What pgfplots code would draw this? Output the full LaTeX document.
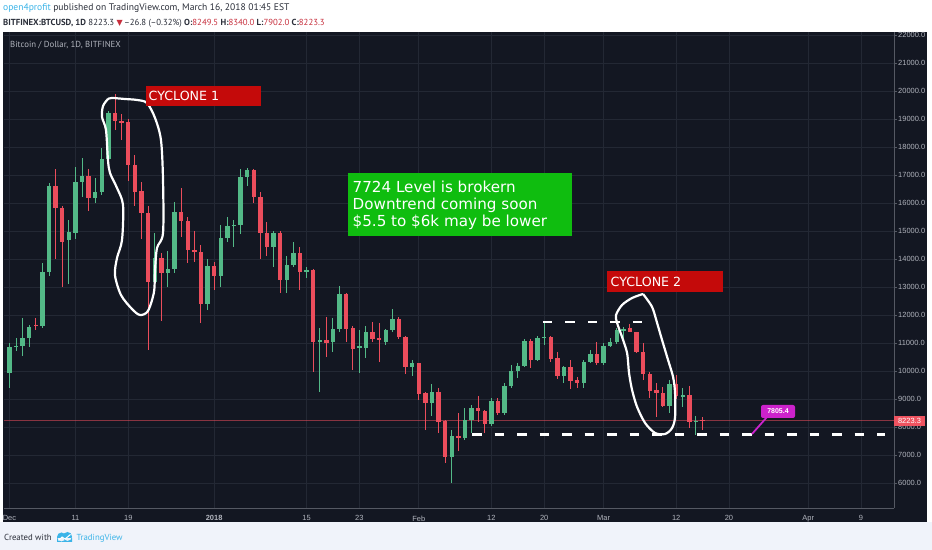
\documentclass[border=0pt]{standalone}
\usepackage{pgfplots}
\pgfplotsset{compat=1.18}
\usepackage{pgfplotstable}
\usepackage{fontspec}
\setmainfont{PT Sans}
\newfontfamily\arialf{Liberation Sans}
\newfontfamily\symf{DejaVu Sans}
\definecolor{bgdark}{HTML}{131722}
\definecolor{footbg}{HTML}{F0F3FA}
\definecolor{gridc}{HTML}{232834}
\definecolor{axisc}{HTML}{555963}
\definecolor{tickc}{HTML}{B2B5BE}
\definecolor{upc}{HTML}{53B987}
\definecolor{dnc}{HTML}{EB4D5C}
\definecolor{boxred}{HTML}{C40A0A}
\definecolor{boxgreen}{HTML}{0FBD0F}
\definecolor{magc}{HTML}{CC22CC}
\definecolor{pricelab}{HTML}{EF5360}
\definecolor{hdrred}{HTML}{C72E3C}
\definecolor{hdrtext}{HTML}{2A2E39}
\definecolor{tvblue}{HTML}{3BB4E8}

% day index from Dec 1, 2017; open high low close
\pgfplotstableread{
d o h l c
0 9930 11000 9400 10860
1 10860 11180 10700 10900
2 10900 11890 10550 11180
3 11180 11630 10870 11570
5 11600 13850 11550 13540
6 13540 16700 13400 16610
9 14680 15400 13100 14960
10 14930 17300 14700 16750
11 16750 17600 16200 16960
13 16180 16900 16000 16390
14 16390 17950 16300 17570
15 17570 19300 17400 19210
22 13180 14930 12800 14040
24 13500 14300 13000 13640
25 13640 16050 13500 15680
30 12390 14000 12180 13750
32 13390 15200 13000 14750
33 14750 15500 14600 15180
34 15180 15400 14430 15230
35 15230 17200 14900 16930
36 16930 17250 16600 17180
40 14430 15000 13700 14930
42 13250 14100 12800 13790
43 13790 14600 13700 14210
45 13540 13710 13320 13600
47 11040 11540 9250 11100
49 11036 11890 10680 11500
50 11500 13036 11400 12750
53 10820 11460 9930 10900
54 10820 11600 10460 11390
57 11036 11500 10930 11460
58 11460 12210 11400 11860
61 10143 10390 9820 10286
64 8857 9536 8400 9250
67 6930 7890 6000 7680
69 7600 8680 7550 8250
70 8250 8790 7790 8680
73 8107 9040 8050 8930
75 8500 9570 8430 9464
76 9464 10210 9390 10000
77 10000 10290 9750 10180
78 10180 11140 10150 11070
80 10393 11250 10350 11180
81 11180 11750 10930 11214
84 9820 10180 9570 10140
87 9570 10390 9390 10320
88 10320 10750 10280 10600
90 10290 11000 10210 10900
91 10900 11180 10850 11036
92 11036 11536 10950 11460
93 11460 11570 11036 11500
100 8750 9680 8500 9536
102 9107 9390 8710 9140
104 8180 8390 7710 8214
}\up

\pgfplotstableread{
d o h l c
4 11650 11900 11470 11600
7 16610 17200 14000 15820
8 15820 15900 13000 14600
12 16960 17200 15700 16180
16 19210 19900 18600 18930
17 18930 19180 18250 18880
18 18900 19000 16800 17360
19 17360 17700 15900 16390
20 16430 16750 14700 15640
21 15640 15900 10750 13180
23 14040 14200 11800 13500
26 15680 16540 14800 15360
27 15360 15500 13860 14320
28 14320 15000 13900 14250
29 14250 14500 11700 12390
31 13750 13900 12890 13390
37 17180 17200 16000 16210
38 16210 16400 14000 14930
39 14930 15320 14100 14430
41 14930 15000 12790 13250
44 14210 14430 12890 13540
46 13610 13650 9960 11040
48 11100 11930 10500 11000
51 12750 12800 11036 11500
52 11536 11600 10036 10786
55 11390 11750 11036 11140
56 11180 11710 10320 11100
59 11860 11930 11150 11214
60 11214 11250 9890 10143
62 10286 10300 8960 9179
63 9214 9250 7900 8857
65 9250 9390 7790 8179
66 8214 8250 6710 6930
68 7680 8500 7140 7600
71 8680 9107 8180 8570
72 8570 8600 7790 8107
74 8930 9040 8430 8500
79 11070 11140 10100 10393
82 11214 11250 10320 10430
83 10460 10680 9700 9820
85 10140 10390 9360 9640
86 9680 9800 9390 9570
89 10600 11036 10210 10290
94 11536 11680 11400 11390
95 11390 11400 10640 10680
96 10680 11000 9680 9890
97 9890 9950 9036 9290
98 9320 9570 8360 9210
99 9210 9430 8700 8750
101 9536 9860 9000 9107
103 9140 9460 7960 8180
105 8249.5 8340 7902 8223.3
}\dn

\begin{document}
\begin{tikzpicture}[x=1bp,y=1bp]
\useasboundingbox (0,0) rectangle (932,550);
\fill[white] (0,0) rectangle (932,550);
\fill[footbg] (0,0) rectangle (932,28);
\fill[bgdark] (3,28) rectangle (927,518);

\begin{axis}[
  at={(4bp,42bp)}, anchor=south west, scale only axis,
  width=890bp, height=476bp,
  xmin=-0.83, xmax=134, ymin=5107, ymax=22107,
  scaled y ticks=false, scaled x ticks=false,
  axis x line*=bottom, axis y line*=right,
  axis line style={draw=axisc, line width=0.8bp},
  xtick={0,10,18,31,45,53,62,73,81,90,101,109,121,129},
  xticklabels={Dec,11,19,\textbf{2018},15,23,Feb,12,20,Mar,12,20,Apr,9},
  ytick={6000,7000,8000,9000,10000,11000,12000,13000,14000,15000,16000,17000,18000,19000,20000,21000,22000},
  yticklabels={6000.0,7000.0,8000.0,9000.0,10000.0,11000.0,12000.0,13000.0,14000.0,15000.0,16000.0,17000.0,18000.0,19000.0,20000.0,21000.0,22000.0},
  grid=major, major grid style={draw=gridc, line width=0.8bp},
  xtick style={draw=none},
  ytick style={draw=axisc, line width=0.8bp},
  major tick length=3bp, tick align=outside,
  xticklabel style={font=\arialf\fontsize{7.5}{8}\selectfont, text=tickc, inner sep=0pt, yshift=-4.5bp},
  yticklabel style={font=\arialf\fontsize{7.5}{8}\selectfont, text=tickc, inner sep=0pt, anchor=west, xshift=1bp},
  clip=true,
]
% current price line
\addplot[forget plot, draw=dnc, draw opacity=0.55, line width=0.9bp] coordinates {(-1,8223.3) (135,8223.3)};

% wicks
\addplot[forget plot, draw=none, mark=none, error bars/.cd, y dir=both, y explicit, error mark=none,
  error bar style={draw=upc, line width=1bp}]
  table[x=d, y expr={(\thisrow{h}+\thisrow{l})/2}, y error expr={(\thisrow{h}-\thisrow{l})/2}] {\up};
\addplot[forget plot, draw=none, mark=none, error bars/.cd, y dir=both, y explicit, error mark=none,
  error bar style={draw=dnc, line width=1bp}]
  table[x=d, y expr={(\thisrow{h}+\thisrow{l})/2}, y error expr={(\thisrow{h}-\thisrow{l})/2}] {\dn};
% bodies
\addplot[forget plot, draw=none, mark=none, error bars/.cd, y dir=both, y explicit, error mark=none,
  error bar style={draw=upc, line width=4.4bp}]
  table[x=d, y expr={(\thisrow{o}+\thisrow{c})/2}, y error expr={max(abs(\thisrow{c}-\thisrow{o})/2,18)}] {\up};
\addplot[forget plot, draw=none, mark=none, error bars/.cd, y dir=both, y explicit, error mark=none,
  error bar style={draw=dnc, line width=4.4bp}]
  table[x=d, y expr={(\thisrow{o}+\thisrow{c})/2}, y error expr={max(abs(\thisrow{c}-\thisrow{o})/2,18)}] {\dn};

% dashed levels
\addplot[forget plot, white, line width=2.5bp, dash pattern=on 9.5bp off 13bp] coordinates {(70.1,7725) (132.65,7725)};
\addplot[forget plot, white, line width=2.5bp, dash pattern=on 9.5bp off 13bp] coordinates {(80.8,11750) (96.0,11750)};

% cyclone 1 loop
\addplot[forget plot, white, line width=2.2bp, smooth] coordinates {
(14.92,19714) (15.53,19750) (17.5,19714) (19.32,19679) (20.83,19571) (22.05,19036) (22.95,18250)
(23.26,16821) (23.26,14929) (22.35,14393) (22.05,13607) (21.89,12821) (20.98,12143) (19.77,12000)
(18.56,12214) (16.89,12714) (15.98,13429) (16.29,14036) (17.05,14679) (17.2,15929) (16.29,16536)
(15.23,17071) (14.92,17536) (14.62,18607) (14.02,19071) (14.17,19464) (14.92,19714)};

% cyclone 2 loop
\addplot[forget plot, white, line width=2.2bp, smooth] coordinates {
(95.98,12750) (97.35,12286) (98.11,11714) (98.86,11107) (99.77,10393) (100.53,9786) (100.83,9214)
(100.83,8357) (100.38,7964) (99.32,7750) (97.8,7786) (96.29,8143) (95.08,8714) (94.32,9321)
(93.86,9929) (93.56,10643) (92.8,11214) (92.05,11714) (91.89,12000) (92.8,12357) (94.32,12607) (95.98,12750)};
\end{axis}

% header
\node[anchor=base west, inner sep=0pt, font=\fontsize{9.6}{10}\selectfont] at (3,539.5)
  {\textcolor{tvblue}{open4profit} \textcolor{hdrtext}{published on TradingView.com, March 16, 2018 01:45 EST}};
\node[anchor=base west, inner sep=0pt, font=\fontsize{8.8}{10}\selectfont, text=hdrtext] at (3,524.5)
  {\textbf{BITFINEX:BTCUSD, 1D}\ 8223.3 \textcolor{hdrred}{\symf\fontsize{8}{9}\selectfont ▼}\,–26.8 (–0.32\%) \textbf{O:}\textcolor{hdrred}{8249.5} \textbf{H:}\textcolor{hdrred}{8340.0} \textbf{L:}\textcolor{hdrred}{7902.0} \textbf{C:}\textcolor{hdrred}{8223.3}};

\node[anchor=base west, inner sep=0pt, font=\fontsize{8.8}{10}\selectfont, text=tickc] at (10,502) {Bitcoin / Dollar, 1D, BITFINEX};

% annotation boxes
\fill[boxred] (146,444) rectangle (261,464);
\node[anchor=base west, inner sep=0pt, text=white, font=\symf\fontsize{12.7}{14}\selectfont] at (148.5,449.3) {CYCLONE 1};
\fill[boxred] (607,258) rectangle (723,279);
\node[anchor=base west, inner sep=0pt, text=white, font=\symf\fontsize{12.7}{14}\selectfont] at (610.5,263.3) {CYCLONE 2};

\fill[boxgreen] (348,314) rectangle (572,377);
\node[anchor=base west, inner sep=0pt, text=white, font=\symf\fontsize{15.2}{17}\selectfont] at (352.5,357) {7724 Level is brokern};
\node[anchor=base west, inner sep=0pt, text=white, font=\symf\fontsize{15.2}{17}\selectfont] at (352.5,340) {Downtrend coming soon};
\node[anchor=base west, inner sep=0pt, text=white, font=\symf\fontsize{15.2}{17}\selectfont] at (352.5,323) {\$5.5 to \$6k may be lower};

% callout
\draw[magc, line width=1.8bp] (767,133) -- (752,116);
\fill[magc, rounded corners=2bp] (761,132) rectangle (795,145);
\node[inner sep=0pt, text=white, font=\arialf\bfseries\fontsize{7}{8}\selectfont] at (778,138.5) {7805.4};

% price label
\fill[pricelab] (894,124) rectangle (925,134);
\node[inner sep=0pt, text=white, font=\arialf\fontsize{7.5}{8}\selectfont] at (909.5,129) {8223.3};

% footer
\node[anchor=base west, inner sep=0pt, text=hdrtext, font=\fontsize{8.8}{10}\selectfont] at (4,9.5) {Created with};
\fill[tvblue] (57,8) rectangle (72,12) (61.5,13) circle (4.5) (67.5,13.5) circle (4.5);
\draw[white, line width=1bp] (58.5,9.5) -- (62,13) -- (65,11) -- (70.5,15.5);
\node[anchor=base west, inner sep=0pt, text=tvblue, font=\fontsize{8.8}{10}\selectfont] at (76.5,9.5) {TradingView};
\end{tikzpicture}
\end{document}
